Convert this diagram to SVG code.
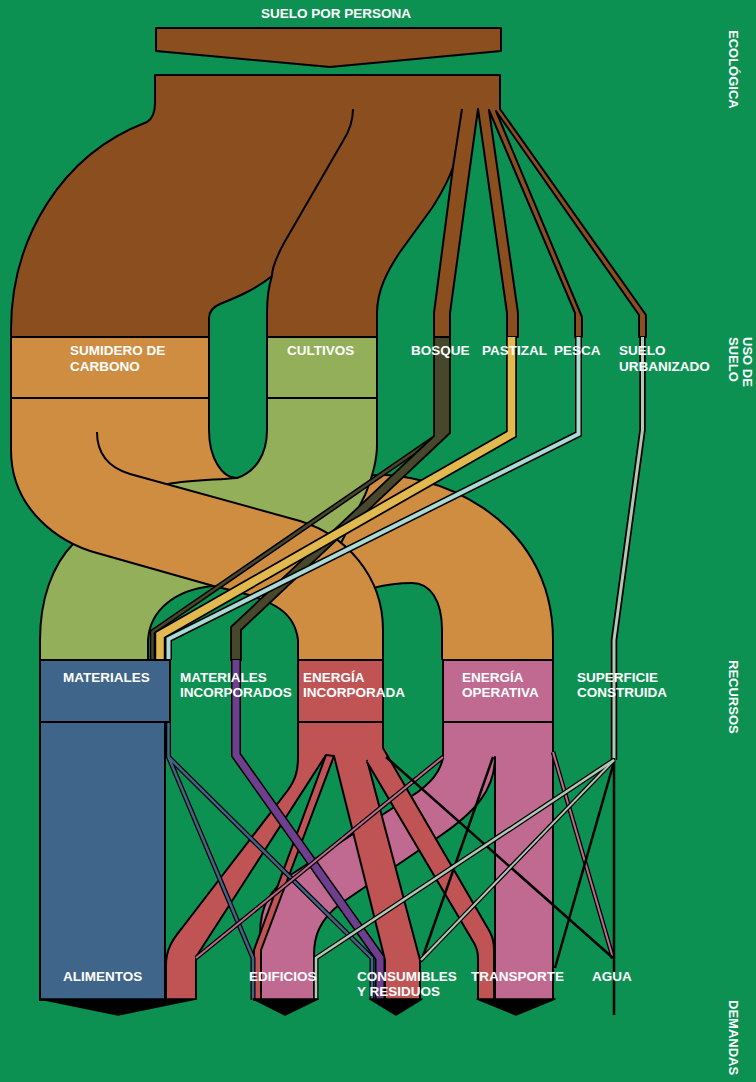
<svg xmlns="http://www.w3.org/2000/svg" width="756" height="1082" viewBox="0 0 756 1082">
<style>
.o{stroke:#000;stroke-width:2;stroke-linejoin:round;fill:none}
.t{font-family:"Liberation Sans",Arial,sans-serif;font-weight:bold;font-size:13.5px;fill:#fff}
.v{font-family:"Liberation Sans",Arial,sans-serif;font-weight:bold;font-size:13px;fill:#fff}
.k{fill:none;stroke-linejoin:miter;stroke-linecap:butt}
.bk{stroke:#000}
.brown{fill:#8B4F1F}
.orange{fill:#CF8D41}
.olive{fill:#93AF59}
.blue{fill:#40658A}
.red{fill:#C05455}
.pink{fill:#C06A91}
.box{stroke:#000;stroke-width:2;stroke-linejoin:round}
</style>
<rect width="756" height="1082" fill="#0C9153"/>

<g id="connectors">
  <!-- ecological footprint mass -->
  <path class="brown" stroke="#000" stroke-width="2" stroke-linejoin="round" d="M155,75 L500,75 L500,109 L646,315 L646,337 L639,337 L639,315 L496,111 L582,317 L582,337 L575,337 L575,313 L489,110 L518,313 L518,337 L507,337 L507,313 L478,109 L450,313 L450,337 L434,337 L434,313 L453,167 C447,185 440,195 432,208 L400,252 C388,270 377,290 377,313 L377,337 L267,337 L267,313 C267,298 269,285 272,276 C255,290 235,298 220,304 C213,307 209,311 209,318 L209,337 L11,337 L11,330 C11,240 60,155 147,122 C152,119 155,113 155,103 Z"/>
  <path class="o" d="M353,109 C353,120 350,130 343,141 L284,243 C277,256 272,268 272,276"/>
  <path class="o" d="M462,109 L453,167"/>

  <!-- sumidero upper sub-flow (to energia operativa) -->
  <path class="orange" d="M97,398 L209,398 L209,430 C209,458 222,478 237,478 L366,476 C430,468 553,515 553,640 L553,660 L442,660 L442,630 C442,600 430,583 412,583 C398,583 385,585 373,588 L345,560 L300,521 L130,474 C110,468 97,455 97,432 Z"/>
  <path class="o" d="M209,398 L209,430 C209,458 222,478 237,478 M366,476 C430,468 553,515 553,640 L553,660 M442,660 L442,630 C442,600 430,583 412,583 C398,583 385,585 373,588"/>

  <!-- cultivos flow -->
  <path class="olive" stroke="#000" stroke-width="2" stroke-linejoin="round" d="M267,398 L377,398 L377,445 C377,462 372,478 365,495 L340,545 L240,575 L212,586 C175,590 150,610 148,640 L148,660 L40,660 L40,640 C40,600 52,565 74,543 L120,510 L168,484 C190,480 215,480 237,478 C255,472 267,455 267,430 Z"/>

  <!-- sumidero lower sub-flow (to energia incorporada) -->
  <path class="orange" d="M11,398 L97,398 L97,432 C97,455 110,468 130,474 L300,521 C345,535 383,575 383,630 L383,660 L298,660 L298,640 C295,615 280,600 217,587 L97,553 C60,543 11,510 11,450 Z"/>
  <path class="o" d="M97,432 C97,455 110,468 130,474 L300,521 C345,535 383,575 383,630 L383,660 M298,660 L298,640 C295,615 280,600 217,587 L97,553 C60,543 11,510 11,450 L11,398"/>

  <!-- bosque -->
  <polyline class="k bk" stroke-width="5.5" points="436,437 152.5,632 152.5,660"/>
  <polyline class="k" stroke="#47472B" stroke-width="2.5" points="436,437 152.5,632 152.5,660"/>
  <path fill="#47472B" stroke="#000" stroke-width="1.8" stroke-linejoin="miter" d="M434,337 L450,337 L450,433 L241,630 L241,660 L231,660 L231,627 L434,436 Z"/>
  <!-- pastizal -->
  <polyline class="k bk" stroke-width="11" points="511.5,337 511.5,434 160,635 160,660"/>
  <polyline class="k" stroke="#E2B94E" stroke-width="7.5" points="511.5,337 511.5,434 160,635 160,660"/>
  <!-- pesca -->
  <polyline class="k bk" stroke-width="7" points="578.5,337 578.5,434 168.5,639 168.5,660"/>
  <polyline class="k" stroke="#ABDAD6" stroke-width="4" points="578.5,337 578.5,434 168.5,639 168.5,660"/>
  <!-- suelo urbanizado -> superficie construida -->
  <polyline class="k bk" stroke-width="6.5" points="642.5,337 642.5,430 614,640 614,760"/>
  <polyline class="k" stroke="#B2C7B7" stroke-width="3" points="642.5,337 642.5,430 614,640 614,760"/>

  <!-- materiales -> alimentos -->
  <rect class="blue" x="40" y="722" width="125" height="278" stroke="#000" stroke-width="2"/>

  <!-- energia operativa flows -->
  <rect class="pink" x="443" y="722" width="110" height="40"/>
  <rect class="pink" x="495" y="722" width="58" height="278"/>
  <path class="pink" d="M443,757 C441,770 432,785 405,800 L292,874 C270,890 260,905 260,935 L260,1000 L314,1000 L314,955 C314,935 320,920 340,904 L440,836 C475,812 495,790 495,757 Z"/>
  <path class="o" d="M443,722 L443,757 C441,770 432,785 405,800 L292,874 C270,890 260,905 260,935 L260,1000 M314,1000 L314,955 C314,935 320,920 340,904 L440,836 C475,812 495,790 495,757 L495,1000 M553,722 L553,1000"/>

  <!-- energia incorporada flows -->
  <rect class="red" x="298" y="722" width="85" height="40"/>
  <path class="red" d="M298,740 L298,757 C298,772 295,780 288,790 L182,928 C172,940 166,950 166,965 L166,1000 L196,1000 L196,957 L326,755 L326,740 Z"/>
  <path class="o" d="M298,722 L298,757 C298,772 295,780 288,790 L182,928 C172,940 166,950 166,965 L166,1000 M196,1000 L196,957 L326,755"/>
  <path class="red" stroke="#000" stroke-width="2" stroke-linejoin="round" d="M326,755 L334,756 L261,950 L261,1000 L254,1000 L254,950 Z"/>
  <path class="red" d="M334,756 L367,760 L420,960 L420,1000 L385,1000 L385,960 Z"/>
  <path class="o" d="M334,756 L385,960 L385,1000 M367,760 L420,960 L420,1000"/>
  <path class="red" d="M367,762 L383,745 L490,932 Q494,940 494,950 L494,1000 L478,1000 L478,958 Q478,950 474,943 Z"/>
  <path class="o" d="M383,722 L383,748 L490,932 Q494,940 494,950 L494,1000 M478,1000 L478,958 Q478,950 474,943 L367,762"/>

  <!-- materiales incorporados -> consumibles -->
  <polyline class="k bk" stroke-width="10" points="236,660 236,755 380,958 380,1000"/>
  <polyline class="k" stroke="#6E3F8F" stroke-width="7" points="236,660 236,755 380,958 380,1000"/>

  <!-- materiales thin flows -->
  <polyline class="k bk" stroke-width="5" points="168.5,722 168.5,757 253,958 253,1000"/>
  <polyline class="k bk" stroke-width="5" points="168.5,757 372,958 372,1000"/>
  <polyline class="k" stroke="#40658A" stroke-width="2.5" points="168.5,722 168.5,757 253,958 253,1000"/>
  <polyline class="k" stroke="#40658A" stroke-width="2.5" points="168.5,757 372,958 372,1000"/>

  <!-- energia operativa thin flows -->
  <line class="bk" stroke-width="4.5" x1="443" y1="757" x2="196" y2="958"/>
  <line stroke="#C06A91" stroke-width="2" x1="443" y1="757" x2="196" y2="958"/>
  <line class="bk" stroke-width="4.5" x1="553" y1="752" x2="613" y2="958"/>
  <line stroke="#C06A91" stroke-width="2" x1="553" y1="752" x2="613" y2="958"/>

  <!-- black flows -->
  <line class="bk" stroke-width="2.5" x1="386" y1="757" x2="613" y2="958"/>
  <line class="bk" stroke-width="2.5" x1="493" y1="757" x2="421" y2="962"/>
  <line class="bk" stroke-width="2.5" x1="614" y1="762" x2="555" y2="968"/>
  <line class="bk" stroke-width="2.5" x1="614" y1="758" x2="614" y2="1015"/>

  <!-- superficie construida gray flows -->
  <polyline class="k bk" stroke-width="5" points="614,760 316,958 316,1000"/>
  <polyline class="k bk" stroke-width="4.5" points="614,760 421,960"/>
  <polyline class="k" stroke="#B2C7B7" stroke-width="2.5" points="614,760 316,958 316,1000"/>
  <polyline class="k" stroke="#B2C7B7" stroke-width="2" points="614,760 421,960"/>
</g>

<g id="n-suelo-por-persona">
  <path class="brown box" d="M156,28 L501,28 L501,51 L330,67 L156,51 Z"/>
  <text class="t" x="261" y="18">SUELO POR PERSONA</text>
</g>
<g id="n-huella-ecologica">
  <text class="v" transform="translate(729,30) rotate(90)">ECOLÓGICA</text>
</g>

<g id="n-sumidero">
  <rect class="orange box" x="11" y="337" width="198" height="61"/>
  <text class="t" x="70" y="355">SUMIDERO DE</text>
  <text class="t" x="70" y="371">CARBONO</text>
</g>
<g id="n-cultivos">
  <rect class="olive box" x="267" y="337" width="110" height="61"/>
  <text class="t" x="287" y="355">CULTIVOS</text>
</g>
<g id="n-bosque"><text class="t" x="411" y="355">BOSQUE</text></g>
<g id="n-pastizal"><text class="t" x="482" y="355">PASTIZAL</text></g>
<g id="n-pesca"><text class="t" x="554" y="355">PESCA</text></g>
<g id="n-suelo-urbanizado">
  <text class="t" x="619" y="355">SUELO</text>
  <text class="t" x="619" y="371">URBANIZADO</text>
</g>
<g id="n-uso-de-suelo">
  <text class="v" transform="translate(743,337) rotate(90)">USO DE</text>
  <text class="v" transform="translate(729,337) rotate(90)">SUELO</text>
</g>

<g id="n-materiales">
  <rect class="blue box" x="40" y="660" width="130" height="62"/>
  <text class="t" x="63" y="682">MATERIALES</text>
</g>
<g id="n-materiales-incorporados">
  <text class="t" x="180" y="682">MATERIALES</text>
  <text class="t" x="180" y="697">INCORPORADOS</text>
</g>
<g id="n-energia-incorporada">
  <rect class="red box" x="298" y="660" width="85" height="62"/>
  <text class="t" x="303" y="682">ENERGÍA</text>
  <text class="t" x="303" y="697">INCORPORADA</text>
</g>
<g id="n-energia-operativa">
  <rect class="pink box" x="443" y="660" width="110" height="62"/>
  <text class="t" x="462" y="682">ENERGÍA</text>
  <text class="t" x="462" y="697">OPERATIVA</text>
</g>
<g id="n-superficie-construida">
  <text class="t" x="577" y="682">SUPERFICIE</text>
  <text class="t" x="577" y="697">CONSTRUIDA</text>
</g>
<g id="n-recursos">
  <text class="v" transform="translate(729,660) rotate(90)">RECURSOS</text>
</g>

<g id="n-alimentos">
  <path d="M40,999 L196,999 L118,1015 Z" fill="#000" stroke="#000" stroke-width="1.5" stroke-linejoin="round"/>
  <text class="t" x="63" y="981">ALIMENTOS</text>
</g>
<g id="n-edificios">
  <path d="M253,999 L318,999 L285,1015 Z" fill="#000" stroke="#000" stroke-width="1.5" stroke-linejoin="round"/>
  <text class="t" x="249" y="981">EDIFICIOS</text>
</g>
<g id="n-consumibles">
  <path d="M370,999 L422,999 L396,1015 Z" fill="#000" stroke="#000" stroke-width="1.5" stroke-linejoin="round"/>
  <text class="t" x="357" y="981">CONSUMIBLES</text>
  <text class="t" x="357" y="996">Y RESIDUOS</text>
</g>
<g id="n-transporte">
  <path d="M477,999 L555,999 L516,1015 Z" fill="#000" stroke="#000" stroke-width="1.5" stroke-linejoin="round"/>
  <text class="t" x="471" y="981">TRANSPORTE</text>
</g>
<g id="n-agua">
  <text class="t" x="592" y="981">AGUA</text>
</g>
<g id="n-demandas">
  <text class="v" transform="translate(729,1000) rotate(90)">DEMANDAS</text>
</g>
</svg>
